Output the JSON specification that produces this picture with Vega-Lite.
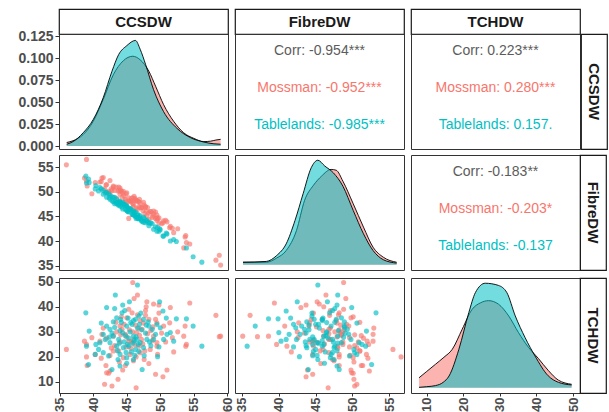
{
 "$schema": "https://vega.github.io/schema/vega-lite/v6.json",
 "padding": {"left": 17, "top": 8, "right": 0, "bottom": 0},
 "background": "white",
 "config": {
  "font": "Liberation Sans",
  "view": {"stroke": "#333333", "strokeWidth": 1},
  "legend": {"disable": true},
  "axis": {"grid": false, "domain": false, "tickColor": "#333333", "tickSize": 4, "tickWidth": 1, "labelFont": "Liberation Sans", "labelFontSize": 14, "labelFontWeight": "bold", "labelColor": "#4d4d4d", "labelPadding": 2},
  "axisX": {"tickSize": 3, "labelPadding": 1, "labelFontSize": 13}
 },
 "datasets": {
  "pts": [
   {"g":"Mossman","c":45.9,"f":48.8,"t":49.7},{"g":"Mossman","c":46.6,"f":46.4,"t":44.7},{"g":"Mossman","c":46.1,"f":49.1,"t":43.3},{"g":"Mossman","c":48.0,"f":45.2,"t":42.0},{"g":"Mossman","c":49.0,"f":45.5,"t":41.1},{"g":"Mossman","c":49.8,"f":43.7,"t":40.7},{"g":"Mossman","c":51.5,"f":43.0,"t":39.7},{"g":"Mossman","c":54.4,"f":39.4,"t":41.5},{"g":"Mossman","c":58.3,"f":36.1,"t":36.6},{"g":"Mossman","c":59.0,"f":35.1,"t":28.3},
   {"g":"Mossman","c":58.8,"f":37.1,"t":28.1},{"g":"Mossman","c":36.0,"f":55.5,"t":23.0},{"g":"Mossman","c":38.7,"f":52.8,"t":26.3},{"g":"Mossman","c":39.0,"f":52.2,"t":25.0},{"g":"Mossman","c":39.8,"f":49.6,"t":27.7},{"g":"Mossman","c":39.1,"f":51.2,"t":16.6},{"g":"Mossman","c":39.0,"f":56.6,"t":20.0},{"g":"Mossman","c":41.9,"f":51.4,"t":16.6},{"g":"Mossman","c":42.0,"f":49.9,"t":13.7},{"g":"Mossman","c":42.5,"f":52.3,"t":14.4},
   {"g":"Mossman","c":42.3,"f":50.1,"t":13.5},{"g":"Mossman","c":41.7,"f":50.6,"t":9.1},{"g":"Mossman","c":42.8,"f":50.3,"t":8.4},{"g":"Mossman","c":43.7,"f":50.2,"t":11.1},{"g":"Mossman","c":46.4,"f":46.7,"t":7.7},{"g":"Mossman","c":49.3,"f":44.6,"t":13.1},{"g":"Mossman","c":50.4,"f":43.7,"t":12.1},{"g":"Mossman","c":51.0,"f":43.9,"t":14.8},{"g":"Mossman","c":48.3,"f":45.7,"t":17.4},{"g":"Mossman","c":47.6,"f":47.3,"t":19.0},
   {"g":"Mossman","c":44.8,"f":48.2,"t":16.6},{"g":"Mossman","c":45.3,"f":44.6,"t":26.3},{"g":"Mossman","c":44.0,"f":49.5,"t":32.3},{"g":"Mossman","c":45.0,"f":49.8,"t":35.6},{"g":"Mossman","c":45.8,"f":48.2,"t":37.6},{"g":"Mossman","c":47.8,"f":46.9,"t":36.6},{"g":"Mossman","c":48.3,"f":44.4,"t":35.0},{"g":"Mossman","c":49.3,"f":45.9,"t":35.0},{"g":"Mossman","c":49.5,"f":44.2,"t":33.6},{"g":"Mossman","c":50.5,"f":44.1,"t":32.3},
   {"g":"Mossman","c":51.4,"f":42.7,"t":33.6},{"g":"Mossman","c":53.7,"f":40.8,"t":32.3},{"g":"Mossman","c":53.5,"f":38.6,"t":28.3},{"g":"Mossman","c":53.9,"f":39.7,"t":25.0},{"g":"Mossman","c":53.8,"f":41.1,"t":24.3},{"g":"Mossman","c":52.0,"f":41.7,"t":22.0},{"g":"Mossman","c":51.8,"f":42.6,"t":27.7},{"g":"Mossman","c":49.5,"f":45.3,"t":25.7},{"g":"Mossman","c":49.0,"f":46.1,"t":28.3},{"g":"Mossman","c":47.3,"f":46.8,"t":31.0},
   {"g":"Mossman","c":46.5,"f":48.3,"t":29.7},{"g":"Mossman","c":46.0,"f":47.0,"t":27.0},{"g":"Mossman","c":45.5,"f":48.2,"t":21.0},{"g":"Mossman","c":44.5,"f":50.1,"t":19.7},{"g":"Mossman","c":43.8,"f":51.0,"t":22.4},{"g":"Mossman","c":43.0,"f":51.0,"t":22.4},{"g":"Mossman","c":42.5,"f":49.7,"t":20.6},{"g":"Mossman","c":41.3,"f":52.8,"t":29.0},{"g":"Mossman","c":41.0,"f":52.0,"t":26.3},{"g":"Mossman","c":40.3,"f":51.9,"t":21.0},
   {"g":"Mossman","c":47.0,"f":46.8,"t":21.7},{"g":"Mossman","c":46.8,"f":48.0,"t":24.3},{"g":"Mossman","c":44.8,"f":48.5,"t":29.0},{"g":"Mossman","c":44.3,"f":48.9,"t":31.0},{"g":"Mossman","c":45.3,"f":48.8,"t":39.0},{"g":"Mossman","c":47.7,"f":45.6,"t":22.4},{"g":"Mossman","c":48.5,"f":46.0,"t":23.0},{"g":"Mossman","c":49.5,"f":44.7,"t":24.3},{"g":"Mossman","c":44.0,"f":50.8,"t":26.0},{"g":"Mossman","c":45.0,"f":47.9,"t":28.0},
   {"g":"Mossman","c":46.2,"f":48.7,"t":25.0},{"g":"Mossman","c":47.2,"f":46.8,"t":27.0},{"g":"Mossman","c":43.5,"f":48.7,"t":30.0},{"g":"Mossman","c":44.6,"f":49.2,"t":33.0},{"g":"Mossman","c":46.8,"f":47.0,"t":31.5},{"g":"Mossman","c":48.6,"f":46.0,"t":30.5},{"g":"Mossman","c":43.2,"f":50.3,"t":24.5},{"g":"Mossman","c":42.0,"f":51.5,"t":27.5},{"g":"Mossman","c":47.5,"f":47.9,"t":33.5},{"g":"Mossman","c":48.8,"f":44.8,"t":26.5},
   {"g":"Mossman","c":45.6,"f":48.0,"t":23.5},{"g":"Mossman","c":46.4,"f":48.2,"t":20.0},{"g":"Mossman","c":50.2,"f":43.5,"t":29.5},{"g":"Mossman","c":44.2,"f":50.1,"t":36.0},{"g":"Mossman","c":41.5,"f":52.9,"t":31.5},{"g":"Mossman","c":49.8,"f":44.7,"t":37.5},{"g":"Mossman","c":47.9,"f":46.1,"t":40.0},{"g":"Mossman","c":45.4,"f":48.2,"t":30.8},{"g":"Mossman","c":46.9,"f":48.5,"t":28.6},{"g":"Mossman","c":43.9,"f":50.2,"t":18.0},
   {"g":"Mossman","c":44.1,"f":50.3,"t":28.8},{"g":"Mossman","c":45.7,"f":48.7,"t":26.0},{"g":"Mossman","c":46.3,"f":48.4,"t":32.7},{"g":"Mossman","c":47.4,"f":46.2,"t":25.2},{"g":"Mossman","c":48.1,"f":46.8,"t":29.2},{"g":"Mossman","c":43.4,"f":51.0,"t":33.8},{"g":"Mossman","c":42.7,"f":50.6,"t":23.6},{"g":"Mossman","c":46.0,"f":47.5,"t":18.5},{"g":"Mossman","c":47.0,"f":47.8,"t":34.5},{"g":"Mossman","c":48.9,"f":45.1,"t":32.0},
   {"g":"Mossman","c":50.8,"f":44.2,"t":26.0},{"g":"Mossman","c":44.9,"f":49.6,"t":24.0},{"g":"Mossman","c":45.9,"f":47.6,"t":30.0},{"g":"Mossman","c":43.0,"f":51.2,"t":28.5},{"g":"Mossman","c":49.6,"f":44.6,"t":21.0},{"g":"Mossman","c":41.2,"f":52.1,"t":19.5},{"g":"Mossman","c":47.8,"f":47.0,"t":38.5},{"g":"Mossman","c":52.6,"f":42.5,"t":30.0},{"g":"Mossman","c":44.4,"f":49.8,"t":14.8},{"g":"Mossman","c":46.6,"f":48.1,"t":36.8},
   {"g":"Tablelands","c":46.6,"f":45.3,"t":48.7},{"g":"Tablelands","c":43.3,"f":48.0,"t":44.7},{"g":"Tablelands","c":45.4,"f":46.6,"t":42.0},{"g":"Tablelands","c":44.4,"f":47.9,"t":40.7},{"g":"Tablelands","c":43.2,"f":47.6,"t":39.3},{"g":"Tablelands","c":42.0,"f":49.9,"t":39.7},{"g":"Tablelands","c":38.9,"f":53.2,"t":37.6},{"g":"Tablelands","c":49.9,"f":42.5,"t":42.0},{"g":"Tablelands","c":50.4,"f":41.0,"t":38.3},{"g":"Tablelands","c":52.4,"f":39.9,"t":35.2},
   {"g":"Tablelands","c":53.9,"f":38.6,"t":35.2},{"g":"Tablelands","c":54.9,"f":36.8,"t":32.3},{"g":"Tablelands","c":56.2,"f":35.7,"t":24.3},{"g":"Tablelands","c":52.0,"f":40.3,"t":26.3},{"g":"Tablelands","c":51.5,"f":40.0,"t":29.7},{"g":"Tablelands","c":49.6,"f":42.8,"t":20.1},{"g":"Tablelands","c":47.3,"f":44.0,"t":15.0},{"g":"Tablelands","c":42.8,"f":48.2,"t":15.0},{"g":"Tablelands","c":44.0,"f":47.9,"t":16.4},{"g":"Tablelands","c":39.4,"f":51.9,"t":30.3},
   {"g":"Tablelands","c":39.3,"f":52.6,"t":17.0},{"g":"Tablelands","c":39.0,"f":51.8,"t":24.3},{"g":"Tablelands","c":40.4,"f":51.3,"t":25.0},{"g":"Tablelands","c":40.8,"f":50.2,"t":23.0},{"g":"Tablelands","c":41.0,"f":50.9,"t":25.7},{"g":"Tablelands","c":41.5,"f":49.5,"t":29.0},{"g":"Tablelands","c":42.0,"f":48.9,"t":32.3},{"g":"Tablelands","c":42.5,"f":49.3,"t":31.0},{"g":"Tablelands","c":43.0,"f":48.0,"t":28.3},{"g":"Tablelands","c":43.5,"f":48.5,"t":35.6},
   {"g":"Tablelands","c":44.3,"f":46.9,"t":37.6},{"g":"Tablelands","c":45.0,"f":47.1,"t":32.3},{"g":"Tablelands","c":45.8,"f":45.4,"t":33.0},{"g":"Tablelands","c":46.3,"f":45.9,"t":35.0},{"g":"Tablelands","c":46.8,"f":44.5,"t":36.3},{"g":"Tablelands","c":47.5,"f":44.8,"t":35.0},{"g":"Tablelands","c":48.3,"f":43.1,"t":32.3},{"g":"Tablelands","c":48.8,"f":43.5,"t":31.0},{"g":"Tablelands","c":49.5,"f":42.0,"t":33.0},{"g":"Tablelands","c":50.0,"f":42.3,"t":31.6},
   {"g":"Tablelands","c":50.5,"f":41.0,"t":27.0},{"g":"Tablelands","c":51.0,"f":41.4,"t":29.0},{"g":"Tablelands","c":47.0,"f":45.2,"t":25.7},{"g":"Tablelands","c":46.5,"f":44.8,"t":27.0},{"g":"Tablelands","c":46.0,"f":46.1,"t":28.3},{"g":"Tablelands","c":45.3,"f":45.9,"t":24.3},{"g":"Tablelands","c":44.5,"f":47.5,"t":23.7},{"g":"Tablelands","c":43.5,"f":47.6,"t":24.3},{"g":"Tablelands","c":42.5,"f":48.5,"t":25.7},{"g":"Tablelands","c":42.3,"f":49.6,"t":20.4},
   {"g":"Tablelands","c":41.5,"f":50.3,"t":21.7},{"g":"Tablelands","c":40.3,"f":50.6,"t":21.0},{"g":"Tablelands","c":48.0,"f":44.2,"t":27.0},{"g":"Tablelands","c":49.0,"f":42.4,"t":27.0},{"g":"Tablelands","c":47.5,"f":43.8,"t":23.7},{"g":"Tablelands","c":46.3,"f":45.0,"t":23.0},{"g":"Tablelands","c":44.0,"f":47.1,"t":21.0},{"g":"Tablelands","c":45.0,"f":47.0,"t":19.7},{"g":"Tablelands","c":46.0,"f":45.3,"t":19.0},{"g":"Tablelands","c":45.5,"f":46.5,"t":30.0},
   {"g":"Tablelands","c":44.8,"f":46.4,"t":28.5},{"g":"Tablelands","c":46.6,"f":45.5,"t":31.5},{"g":"Tablelands","c":43.8,"f":47.3,"t":27.0},{"g":"Tablelands","c":47.8,"f":43.7,"t":29.5},{"g":"Tablelands","c":45.9,"f":45.4,"t":25.5},{"g":"Tablelands","c":44.2,"f":47.6,"t":33.8},{"g":"Tablelands","c":46.9,"f":45.0,"t":33.0},{"g":"Tablelands","c":43.0,"f":48.9,"t":34.0},{"g":"Tablelands","c":47.6,"f":44.6,"t":20.5},{"g":"Tablelands","c":48.6,"f":43.7,"t":24.5},
   {"g":"Tablelands","c":45.2,"f":46.0,"t":35.5},{"g":"Tablelands","c":44.6,"f":47.4,"t":26.0},{"g":"Tablelands","c":46.4,"f":44.6,"t":28.0},{"g":"Tablelands","c":42.8,"f":49.0,"t":29.5},{"g":"Tablelands","c":45.7,"f":46.3,"t":22.0},{"g":"Tablelands","c":47.1,"f":44.5,"t":37.5},{"g":"Tablelands","c":44.0,"f":48.1,"t":30.5},{"g":"Tablelands","c":49.3,"f":42.9,"t":29.0},{"g":"Tablelands","c":46.1,"f":45.9,"t":26.5},{"g":"Tablelands","c":43.6,"f":47.9,"t":22.5},
   {"g":"Tablelands","c":45.0,"f":46.2,"t":17.5},{"g":"Tablelands","c":48.2,"f":43.8,"t":34.0},{"g":"Tablelands","c":44.7,"f":47.3,"t":38.5},{"g":"Tablelands","c":41.8,"f":49.8,"t":27.0},{"g":"Tablelands","c":45.3,"f":46.7,"t":27.5},{"g":"Tablelands","c":44.4,"f":46.5,"t":29.6},{"g":"Tablelands","c":46.7,"f":44.6,"t":25.0},{"g":"Tablelands","c":43.2,"f":48.9,"t":31.8},{"g":"Tablelands","c":47.2,"f":44.1,"t":30.8},{"g":"Tablelands","c":45.6,"f":46.5,"t":33.7},
   {"g":"Tablelands","c":44.9,"f":47.3,"t":21.8},{"g":"Tablelands","c":46.2,"f":45.2,"t":20.6},{"g":"Tablelands","c":48.4,"f":43.6,"t":26.0},{"g":"Tablelands","c":42.4,"f":48.8,"t":27.9},{"g":"Tablelands","c":45.1,"f":46.1,"t":25.0},{"g":"Tablelands","c":46.0,"f":45.9,"t":34.5},{"g":"Tablelands","c":43.9,"f":48.0,"t":25.5},{"g":"Tablelands","c":47.9,"f":44.1,"t":32.7},{"g":"Tablelands","c":44.1,"f":47.8,"t":35.0},{"g":"Tablelands","c":49.8,"f":42.0,"t":24.0},
   {"g":"Tablelands","c":41.2,"f":50.6,"t":33.5},{"g":"Tablelands","c":50.9,"f":41.6,"t":35.5},{"g":"Tablelands","c":46.8,"f":44.7,"t":22.2},{"g":"Tablelands","c":43.7,"f":47.5,"t":19.0}
  ],
  "dens": [
   {"v":"CCSDW","g":"Mossman","x":36.05,"d":0.004},{"v":"CCSDW","g":"Mossman","x":37.0,"d":0.006},{"v":"CCSDW","g":"Mossman","x":38.5,"d":0.013},{"v":"CCSDW","g":"Mossman","x":40.0,"d":0.028},{"v":"CCSDW","g":"Mossman","x":41.5,"d":0.053},{"v":"CCSDW","g":"Mossman","x":43.0,"d":0.081},{"v":"CCSDW","g":"Mossman","x":44.5,"d":0.097},{"v":"CCSDW","g":"Mossman","x":45.9,"d":0.102},{"v":"CCSDW","g":"Mossman","x":47.0,"d":0.098},{"v":"CCSDW","g":"Mossman","x":48.3,"d":0.085},{"v":"CCSDW","g":"Mossman","x":49.3,"d":0.068},{"v":"CCSDW","g":"Mossman","x":50.5,"d":0.047},{"v":"CCSDW","g":"Mossman","x":52.0,"d":0.028},{"v":"CCSDW","g":"Mossman","x":53.5,"d":0.015},{"v":"CCSDW","g":"Mossman","x":55.0,"d":0.0087},{"v":"CCSDW","g":"Mossman","x":56.5,"d":0.005},{"v":"CCSDW","g":"Mossman","x":57.5,"d":0.0055},{"v":"CCSDW","g":"Mossman","x":58.3,"d":0.0068},{"v":"CCSDW","g":"Mossman","x":59.0,"d":0.0076},
   {"v":"CCSDW","g":"Tablelands","x":36.05,"d":0.002},{"v":"CCSDW","g":"Tablelands","x":37.0,"d":0.005},{"v":"CCSDW","g":"Tablelands","x":38.5,"d":0.015},{"v":"CCSDW","g":"Tablelands","x":40.0,"d":0.030},{"v":"CCSDW","g":"Tablelands","x":41.5,"d":0.055},{"v":"CCSDW","g":"Tablelands","x":42.8,"d":0.085},{"v":"CCSDW","g":"Tablelands","x":43.8,"d":0.104},{"v":"CCSDW","g":"Tablelands","x":45.0,"d":0.114},{"v":"CCSDW","g":"Tablelands","x":46.3,"d":0.120},{"v":"CCSDW","g":"Tablelands","x":47.0,"d":0.110},{"v":"CCSDW","g":"Tablelands","x":47.8,"d":0.093},{"v":"CCSDW","g":"Tablelands","x":49.0,"d":0.064},{"v":"CCSDW","g":"Tablelands","x":50.5,"d":0.039},{"v":"CCSDW","g":"Tablelands","x":52.5,"d":0.020},{"v":"CCSDW","g":"Tablelands","x":54.5,"d":0.0095},{"v":"CCSDW","g":"Tablelands","x":56.5,"d":0.0045},{"v":"CCSDW","g":"Tablelands","x":58.0,"d":0.0025},{"v":"CCSDW","g":"Tablelands","x":59.0,"d":0.002},
   {"v":"FibreDW","g":"Mossman","x":35.14,"d":0.003},{"v":"FibreDW","g":"Mossman","x":38.3,"d":0.003},{"v":"FibreDW","g":"Mossman","x":39.7,"d":0.008},{"v":"FibreDW","g":"Mossman","x":41.0,"d":0.017},{"v":"FibreDW","g":"Mossman","x":42.4,"d":0.041},{"v":"FibreDW","g":"Mossman","x":43.5,"d":0.077},{"v":"FibreDW","g":"Mossman","x":44.7,"d":0.095},{"v":"FibreDW","g":"Mossman","x":45.8,"d":0.106},{"v":"FibreDW","g":"Mossman","x":47.1,"d":0.114},{"v":"FibreDW","g":"Mossman","x":47.8,"d":0.113},{"v":"FibreDW","g":"Mossman","x":48.7,"d":0.100},{"v":"FibreDW","g":"Mossman","x":50.1,"d":0.073},{"v":"FibreDW","g":"Mossman","x":51.5,"d":0.045},{"v":"FibreDW","g":"Mossman","x":52.8,"d":0.021},{"v":"FibreDW","g":"Mossman","x":54.2,"d":0.009},{"v":"FibreDW","g":"Mossman","x":56.0,"d":0.003},
   {"v":"FibreDW","g":"Tablelands","x":35.14,"d":0.003},{"v":"FibreDW","g":"Tablelands","x":38.3,"d":0.004},{"v":"FibreDW","g":"Tablelands","x":39.7,"d":0.011},{"v":"FibreDW","g":"Tablelands","x":41.0,"d":0.025},{"v":"FibreDW","g":"Tablelands","x":42.2,"d":0.053},{"v":"FibreDW","g":"Tablelands","x":43.3,"d":0.085},{"v":"FibreDW","g":"Tablelands","x":44.4,"d":0.116},{"v":"FibreDW","g":"Tablelands","x":45.3,"d":0.125},{"v":"FibreDW","g":"Tablelands","x":46.25,"d":0.118},{"v":"FibreDW","g":"Tablelands","x":47.4,"d":0.110},{"v":"FibreDW","g":"Tablelands","x":48.7,"d":0.094},{"v":"FibreDW","g":"Tablelands","x":50.1,"d":0.065},{"v":"FibreDW","g":"Tablelands","x":51.5,"d":0.037},{"v":"FibreDW","g":"Tablelands","x":52.8,"d":0.017},{"v":"FibreDW","g":"Tablelands","x":54.2,"d":0.006},{"v":"FibreDW","g":"Tablelands","x":56.0,"d":0.002},
   {"v":"TCHDW","g":"Mossman","x":7.9,"d":0.0046},{"v":"TCHDW","g":"Mossman","x":10.0,"d":0.0075},{"v":"TCHDW","g":"Mossman","x":12.4,"d":0.0108},{"v":"TCHDW","g":"Mossman","x":14.7,"d":0.014},{"v":"TCHDW","g":"Mossman","x":17.0,"d":0.0177},{"v":"TCHDW","g":"Mossman","x":19.7,"d":0.0269},{"v":"TCHDW","g":"Mossman","x":22.4,"d":0.036},{"v":"TCHDW","g":"Mossman","x":24.7,"d":0.039},{"v":"TCHDW","g":"Mossman","x":26.9,"d":0.040},{"v":"TCHDW","g":"Mossman","x":29.6,"d":0.0384},{"v":"TCHDW","g":"Mossman","x":32.4,"d":0.033},{"v":"TCHDW","g":"Mossman","x":35.1,"d":0.0253},{"v":"TCHDW","g":"Mossman","x":37.8,"d":0.0186},{"v":"TCHDW","g":"Mossman","x":40.5,"d":0.0135},{"v":"TCHDW","g":"Mossman","x":43.2,"d":0.008},{"v":"TCHDW","g":"Mossman","x":46.0,"d":0.0035},{"v":"TCHDW","g":"Mossman","x":49.6,"d":0.0016},
   {"v":"TCHDW","g":"Tablelands","x":7.9,"d":0.0002},{"v":"TCHDW","g":"Tablelands","x":10.0,"d":0.0005},{"v":"TCHDW","g":"Tablelands","x":12.4,"d":0.001},{"v":"TCHDW","g":"Tablelands","x":14.5,"d":0.0025},{"v":"TCHDW","g":"Tablelands","x":16.1,"d":0.0054},{"v":"TCHDW","g":"Tablelands","x":18.8,"d":0.0177},{"v":"TCHDW","g":"Tablelands","x":21.5,"d":0.0345},{"v":"TCHDW","g":"Tablelands","x":23.3,"d":0.0437},{"v":"TCHDW","g":"Tablelands","x":26.0,"d":0.048},{"v":"TCHDW","g":"Tablelands","x":29.6,"d":0.047},{"v":"TCHDW","g":"Tablelands","x":31.9,"d":0.0437},{"v":"TCHDW","g":"Tablelands","x":34.2,"d":0.033},{"v":"TCHDW","g":"Tablelands","x":36.9,"d":0.023},{"v":"TCHDW","g":"Tablelands","x":39.6,"d":0.0146},{"v":"TCHDW","g":"Tablelands","x":43.2,"d":0.0055},{"v":"TCHDW","g":"Tablelands","x":46.0,"d":0.0025},{"v":"TCHDW","g":"Tablelands","x":49.6,"d":0.0013}
  ],
  "corr": [
   {"p":"CF","g":"Corr","label":"Corr: -0.954***"},{"p":"CF","g":"Mossman","label":"Mossman: -0.952***"},{"p":"CF","g":"Tablelands","label":"Tablelands: -0.985***"},
   {"p":"CT","g":"Corr","label":"Corr: 0.223***"},{"p":"CT","g":"Mossman","label":"Mossman: 0.280***"},{"p":"CT","g":"Tablelands","label":"Tablelands: 0.157."},
   {"p":"FT","g":"Corr","label":"Corr: -0.183**"},{"p":"FT","g":"Mossman","label":"Mossman: -0.203*"},{"p":"FT","g":"Tablelands","label":"Tablelands: -0.137"}
  ]
 },
 "spacing": 0,
 "vconcat": [
  {
   "spacing": 5,
   "hconcat": [
    {"bounds": "flush", "spacing": 0, "vconcat": [
     {"width": 169, "height": 25, "view": {"stroke": "#1a1a1a", "strokeWidth": 1.2}, "data": {"values": [{"v": "CCSDW"}]}, "mark": {"type": "text", "fontSize": 15, "fontWeight": "bold", "color": "#1a1a1a"}, "encoding": {"text": {"field": "v"}}},
     {"width": 169, "height": 115, "data": {"name": "dens"}, "transform": [{"filter": "datum.v === 'CCSDW'"}],
      "encoding": {
       "x": {"field": "x", "type": "quantitative", "scale": {"domain": [34.9, 60.1], "nice": false, "zero": false}, "axis": null},
       "y": {"field": "d", "type": "quantitative", "scale": {"domain": [-0.0034, 0.1273], "nice": false, "zero": false}, "axis": {"values": [0, 0.025, 0.05, 0.075, 0.1, 0.125], "format": ".3f", "title": null}}
      },
      "layer": [
       {"transform": [{"filter": "datum.g === 'Mossman'"}], "mark": {"type": "area", "color": "#F8766D", "opacity": 0.55, "interpolate": "monotone"}},
       {"transform": [{"filter": "datum.g === 'Mossman'"}], "mark": {"type": "line", "color": "black", "strokeWidth": 0.9, "interpolate": "monotone"}},
       {"transform": [{"filter": "datum.g === 'Tablelands'"}], "mark": {"type": "area", "color": "#00BFC4", "opacity": 0.55, "interpolate": "monotone"}},
       {"transform": [{"filter": "datum.g === 'Tablelands'"}], "mark": {"type": "line", "color": "black", "strokeWidth": 0.9, "interpolate": "monotone"}}
      ]
     }
    ]},
    {"bounds": "flush", "spacing": 0, "vconcat": [
     {"width": 169, "height": 25, "view": {"stroke": "#1a1a1a", "strokeWidth": 1.2}, "data": {"values": [{"v": "FibreDW"}]}, "mark": {"type": "text", "fontSize": 15, "fontWeight": "bold", "color": "#1a1a1a"}, "encoding": {"text": {"field": "v"}}},
     {"width": 169, "height": 115, "data": {"name": "corr"}, "transform": [{"filter": "datum.p === 'CF'"}],
      "mark": {"type": "text", "fontSize": 14},
      "encoding": {
       "y": {"field": "g", "type": "nominal", "scale": {"type": "point", "domain": ["Corr", "Mossman", "Tablelands"], "padding": 0.56, "align": 0.42}, "axis": null},
       "text": {"field": "label"},
       "color": {"field": "g", "type": "nominal", "scale": {"domain": ["Mossman", "Tablelands", "Corr"], "range": ["#F8766D", "#00BFC4", "#5c5c5c"]}, "legend": null}
      }
     }
    ]},
    {"spacing": -2, "hconcat": [
     {"bounds": "flush", "spacing": 0, "vconcat": [
      {"width": 169, "height": 25, "view": {"stroke": "#1a1a1a", "strokeWidth": 1.2}, "data": {"values": [{"v": "TCHDW"}]}, "mark": {"type": "text", "fontSize": 15, "fontWeight": "bold", "color": "#1a1a1a"}, "encoding": {"text": {"field": "v"}}},
      {"width": 169, "height": 115, "data": {"name": "corr"}, "transform": [{"filter": "datum.p === 'CT'"}],
       "mark": {"type": "text", "fontSize": 14},
       "encoding": {
        "y": {"field": "g", "type": "nominal", "scale": {"type": "point", "domain": ["Corr", "Mossman", "Tablelands"], "padding": 0.56, "align": 0.42}, "axis": null},
        "text": {"field": "label"},
        "color": {"field": "g", "type": "nominal", "scale": {"domain": ["Mossman", "Tablelands", "Corr"], "range": ["#F8766D", "#00BFC4", "#5c5c5c"]}, "legend": null}
       }
      }
     ]},
     {"bounds": "flush", "spacing": 0, "vconcat": [
      {"width": 26, "height": 25, "view": {"stroke": null}, "data": {"values": [{"v": ""}]}, "mark": {"type": "text"}, "encoding": {"text": {"field": "v"}}},
      {"width": 26, "height": 115, "view": {"stroke": "#1a1a1a", "strokeWidth": 1.2}, "data": {"values": [{"v": "CCSDW"}]}, "mark": {"type": "text", "fontSize": 15, "fontWeight": "bold", "color": "#1a1a1a", "angle": 90}, "encoding": {"text": {"field": "v"}}}
     ]}
    ]}
   ]
  },
  {
   "spacing": 0,
   "vconcat": [
    {
     "spacing": 5,
     "hconcat": [
      {"width": 169, "height": 115, "data": {"name": "pts"}, "mark": {"type": "circle", "size": 26, "opacity": 0.65},
       "encoding": {
        "x": {"field": "c", "type": "quantitative", "scale": {"domain": [34.9, 60.1], "nice": false, "zero": false}, "axis": null},
        "y": {"field": "f", "type": "quantitative", "scale": {"domain": [34.1, 57.5], "nice": false, "zero": false}, "axis": {"values": [35, 40, 45, 50, 55], "title": null}},
        "color": {"field": "g", "type": "nominal", "scale": {"domain": ["Mossman", "Tablelands", "Corr"], "range": ["#F8766D", "#00BFC4", "#5c5c5c"]}, "legend": null}
       }
      },
      {"width": 169, "height": 115, "data": {"name": "dens"}, "transform": [{"filter": "datum.v === 'FibreDW'"}],
       "encoding": {
        "x": {"field": "x", "type": "quantitative", "scale": {"domain": [34.05, 57.0], "nice": false, "zero": false}, "axis": null},
        "y": {"field": "d", "type": "quantitative", "scale": {"domain": [-0.00625, 0.13125], "nice": false, "zero": false}, "axis": null}
       },
       "layer": [
        {"transform": [{"filter": "datum.g === 'Mossman'"}], "mark": {"type": "area", "color": "#F8766D", "opacity": 0.55, "interpolate": "monotone"}},
        {"transform": [{"filter": "datum.g === 'Mossman'"}], "mark": {"type": "line", "color": "black", "strokeWidth": 0.9, "interpolate": "monotone"}},
        {"transform": [{"filter": "datum.g === 'Tablelands'"}], "mark": {"type": "area", "color": "#00BFC4", "opacity": 0.55, "interpolate": "monotone"}},
        {"transform": [{"filter": "datum.g === 'Tablelands'"}], "mark": {"type": "line", "color": "black", "strokeWidth": 0.9, "interpolate": "monotone"}}
       ]
      },
      {"bounds": "flush", "spacing": 0, "hconcat": [
       {"width": 169, "height": 115, "data": {"name": "corr"}, "transform": [{"filter": "datum.p === 'FT'"}],
        "mark": {"type": "text", "fontSize": 14},
        "encoding": {
         "y": {"field": "g", "type": "nominal", "scale": {"type": "point", "domain": ["Corr", "Mossman", "Tablelands"], "padding": 0.56, "align": 0.42}, "axis": null},
         "text": {"field": "label"},
         "color": {"field": "g", "type": "nominal", "scale": {"domain": ["Mossman", "Tablelands", "Corr"], "range": ["#F8766D", "#00BFC4", "#5c5c5c"]}, "legend": null}
        }
       },
       {"width": 26, "height": 115, "view": {"stroke": "#1a1a1a", "strokeWidth": 1.2}, "data": {"values": [{"v": "FibreDW"}]}, "mark": {"type": "text", "fontSize": 15, "fontWeight": "bold", "color": "#1a1a1a", "angle": 90}, "encoding": {"text": {"field": "v"}}}
      ]}
     ]
    },
    {
     "spacing": -1,
     "hconcat": [
      {"width": 169, "height": 115, "data": {"name": "pts"}, "mark": {"type": "circle", "size": 26, "opacity": 0.65},
       "encoding": {
        "x": {"field": "c", "type": "quantitative", "scale": {"domain": [34.9, 60.1], "nice": false, "zero": false}, "axis": {"values": [35, 40, 45, 50, 55, 60], "labelAngle": 270, "title": null}},
        "y": {"field": "t", "type": "quantitative", "scale": {"domain": [5.6, 51.5], "nice": false, "zero": false}, "axis": {"values": [10, 20, 30, 40, 50], "title": null}},
        "color": {"field": "g", "type": "nominal", "scale": {"domain": ["Mossman", "Tablelands", "Corr"], "range": ["#F8766D", "#00BFC4", "#5c5c5c"]}, "legend": null}
       }
      },
      {"spacing": 5, "hconcat": [
       {"width": 169, "height": 115, "data": {"name": "pts"}, "mark": {"type": "circle", "size": 26, "opacity": 0.65},
        "encoding": {
         "x": {"field": "f", "type": "quantitative", "scale": {"domain": [34.05, 57.0], "nice": false, "zero": false}, "axis": {"values": [35, 40, 45, 50, 55], "labelAngle": 270, "title": null}},
         "y": {"field": "t", "type": "quantitative", "scale": {"domain": [5.6, 51.5], "nice": false, "zero": false}, "axis": null},
         "color": {"field": "g", "type": "nominal", "scale": {"domain": ["Mossman", "Tablelands", "Corr"], "range": ["#F8766D", "#00BFC4", "#5c5c5c"]}, "legend": null}
        }
       },
       {"bounds": "flush", "spacing": 0, "hconcat": [
        {"width": 169, "height": 115, "data": {"name": "dens"}, "transform": [{"filter": "datum.v === 'TCHDW'"}],
         "encoding": {
          "x": {"field": "x", "type": "quantitative", "scale": {"domain": [5.7, 51.9], "nice": false, "zero": false}, "axis": {"values": [10, 20, 30, 40, 50], "labelAngle": 270, "title": null}},
          "y": {"field": "d", "type": "quantitative", "scale": {"domain": [-0.0024, 0.0504], "nice": false, "zero": false}, "axis": null}
         },
         "layer": [
          {"transform": [{"filter": "datum.g === 'Mossman'"}], "mark": {"type": "area", "color": "#F8766D", "opacity": 0.55, "interpolate": "monotone"}},
          {"transform": [{"filter": "datum.g === 'Mossman'"}], "mark": {"type": "line", "color": "black", "strokeWidth": 0.9, "interpolate": "monotone"}},
          {"transform": [{"filter": "datum.g === 'Tablelands'"}], "mark": {"type": "area", "color": "#00BFC4", "opacity": 0.55, "interpolate": "monotone"}},
          {"transform": [{"filter": "datum.g === 'Tablelands'"}], "mark": {"type": "line", "color": "black", "strokeWidth": 0.9, "interpolate": "monotone"}}
         ]
        },
        {"width": 26, "height": 115, "view": {"stroke": "#1a1a1a", "strokeWidth": 1.2}, "data": {"values": [{"v": "TCHDW"}]}, "mark": {"type": "text", "fontSize": 15, "fontWeight": "bold", "color": "#1a1a1a", "angle": 90}, "encoding": {"text": {"field": "v"}}}
       ]}
      ]}
     ]
    }
   ]
  }
 ]
}
